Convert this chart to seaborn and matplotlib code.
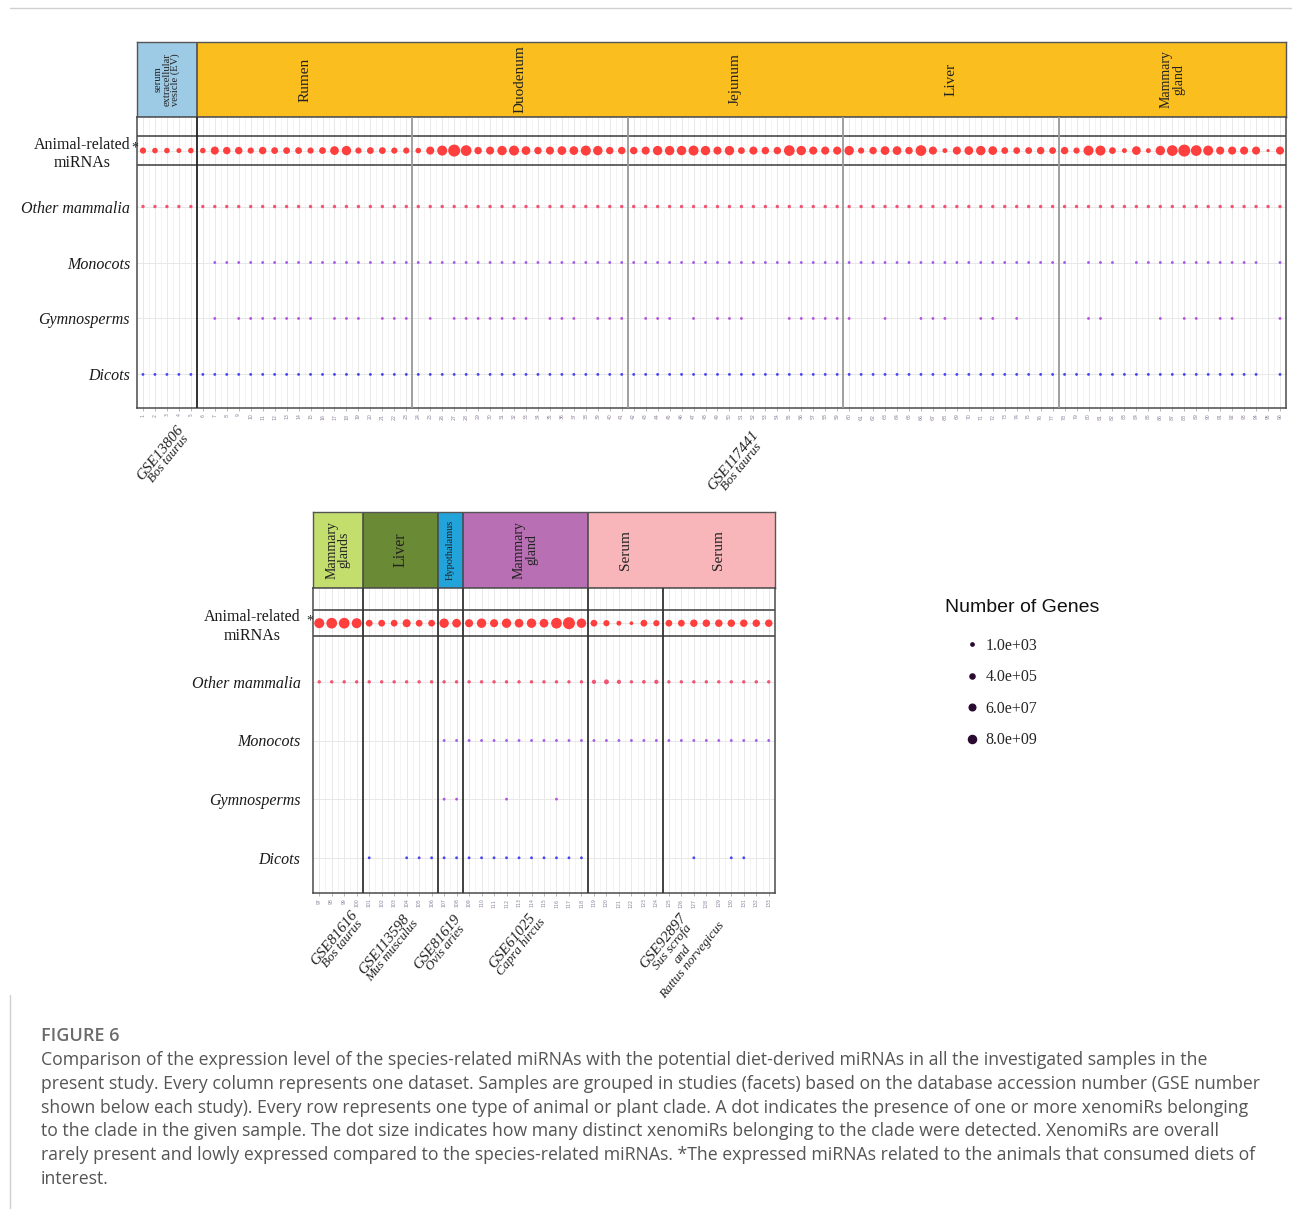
import math
import matplotlib
matplotlib.use("Agg")
import matplotlib.pyplot as plt
from matplotlib.colors import LogNorm
from matplotlib.lines import Line2D
import pandas as pd
import seaborn as sns

W, H = 1292, 1209
sns.set_theme(style="white")
plt.rcParams['font.family'] = ['Liberation Serif', 'DejaVu Serif']

# ---------------- data ----------------
clades = ["Animal-related miRNAs", "Other mammalia", "Monocots", "Gymnosperms", "Dicots"]
clade_colors = {"Animal-related miRNAs": "#FF3E3E", "Other mammalia": "#F25573",
                "Monocots": "#A15CEB", "Gymnosperms": "#B653DC", "Dicots": "#4646F2"}

samples = list(range(1, 134))

animal_genes = [
    # GSE13806 EV (1-5) + Rumen (6-23)
    3e4, 1.3e4, 1.3e4, 6e3, 1.3e4, 1.3e4, 6e5, 2e5, 2e5, 3e4, 2e5, 7e4, 7e4, 7e4, 3e4, 7e4, 2e6, 8e6, 3e4, 7e4, 7e4, 3e4, 3e4,
    # Duodenum (24-41)
    1.3e4, 6e5, 3e7, 4e9, 1.5e8, 2e5, 6e5, 8e6, 3e7, 2e6, 2e5, 6e5, 2e6, 2e6, 3e7, 8e6, 2e5, 2e5,
    # Jejunum (42-59)
    2e5, 6e5, 8e6, 8e6, 8e6, 3e7, 8e6, 6e5, 8e6, 7e4, 6e5, 2e5, 2e5, 1.5e8, 8e6, 6e5, 6e5, 6e5,
    # Liver (60-77)
    8e6, 3e4, 2e5, 2e6, 2e6, 2e5, 1.5e8, 6e5, 6e3, 6e5, 2e6, 8e6, 2e6, 7e4, 7e4, 7e4, 2e5, 7e4,
    # Mammary gland (78-96)
    2e5, 3e4, 3e7, 3e7, 7e4, 6e3, 2e6, 6e3, 8e6, 1.5e8, 4e9, 1.5e8, 3e7, 6e5, 6e5, 6e5, 6e5, 1.2e3, 6e5,
    # GSE81616 (97-100)
    3e7, 1.5e8, 1.5e8, 3e7,
    # GSE113598 (101-106)
    7e4, 7e4, 7e4, 6e5, 7e4, 7e4,
    # GSE81619 (107-108)
    8e6, 2e6,
    # GSE61025 (109-118)
    6e5, 8e6, 6e5, 8e6, 2e6, 8e6, 2e6, 1.5e8, 4e9, 8e6,
    # GSE92897 serum (119-124)
    7e4, 3e4, 6e3, 1.9e3, 7e4, 3e4,
    # GSE92897 serum (125-133)
    7e4, 7e4, 2e5, 2e5, 2e5, 2e5, 2e5, 2e5, 2e5,
]
other_mammalia_genes = [1.5e3] * 118 + [3e3, 6e3, 3e3, 1.5e3, 1.9e3, 3e3] + [1.5e3] * 9

monocots_samples = (list(range(7, 79)) + [80, 81, 82, 84, 85, 86, 87, 88, 89, 90, 91, 92, 93, 94, 96]
                    + list(range(107, 134)))
gymnosperms_samples = [7, 9, 10, 11, 12, 13, 14, 15, 17, 18, 19, 21, 22, 23,
                       25, 27, 28, 29, 30, 31, 32, 33, 35, 36, 37, 39, 40, 41,
                       43, 44, 45, 47, 49, 50, 51, 55, 56, 57, 58, 59,
                       60, 63, 66, 67, 68, 71, 72, 74,
                       80, 81, 86, 88, 89, 91, 92, 96,
                       107, 108, 112, 116]
dicots_samples = (list(range(1, 95)) + [96, 101, 104, 105, 106] + list(range(107, 119))
                  + [127, 130, 131])
plant_dot_genes = 1e3

top_facets = [("serum\nextracellular\nvesicle (EV)", 1, 5), ("Rumen", 6, 23), ("Duodenum", 24, 41),
              ("Jejunum", 42, 59), ("Liver", 60, 77), ("Mammary\ngland", 78, 96)]
top_strip_colors = [("#9DCBE6", 1, 5), ("#FABF1F", 6, 96)]
bottom_facets = [("Mammary\nglands", 97, 100), ("Liver", 101, 106), ("Hypothalamus", 107, 108),
                 ("Mammary\ngland", 109, 118), ("Serum", 119, 124), ("Serum", 125, 133)]
bottom_strip_colors = [("#C3DE6C", 97, 100), ("#6A8A35", 101, 106), ("#22A4DA", 107, 108),
                       ("#B86FB4", 109, 118), ("#F8B6BA", 119, 133)]

legend_values = [1e3, 4e5, 6e7, 8e9]

# ---------------- long table ----------------
rows = []
for s, g in zip(samples, animal_genes):
    rows.append((s, clades[0], g))
for s, g in zip(samples, other_mammalia_genes):
    rows.append((s, clades[1], g))
for s in monocots_samples:
    rows.append((s, clades[2], plant_dot_genes))
for s in gymnosperms_samples:
    rows.append((s, clades[3], plant_dot_genes))
for s in dicots_samples:
    rows.append((s, clades[4], plant_dot_genes))
df = pd.DataFrame(rows, columns=["sample", "clade", "genes"])
df["row"] = df["clade"].map({c: i for i, c in enumerate(clades)})

fig = plt.figure(figsize=(W / 100, H / 100), dpi=100)


def rect(x0, y0, x1, y1):
    return [x0 / W, 1 - y1 / H, (x1 - x0) / W, (y1 - y0) / H]


def px(x, y):
    return (x / W, 1 - y / H)


size_norm = LogNorm(1e3, 1e10)


def draw_panel(ax, data, lo, hi, facets, sep_colors, box_half, ylab_pad):
    ax.set_xlim(lo - 0.5, hi + 0.5)
    ax.set_ylim(4.6, -0.6)
    for x in range(lo, hi + 1):
        ax.axvline(x, color="#e4e4e4", lw=0.6, zorder=0)
        ax.axvline(x + 0.5, color="#f0f0f0", lw=0.5, zorder=0)
    for y in range(5):
        ax.axhline(y, color="#e8e8e8", lw=0.7, zorder=0)
    sns.scatterplot(data=data, x="sample", y="row", hue="clade", palette=clade_colors,
                    size="genes", sizes=(4.2, 79), size_norm=size_norm,
                    linewidth=0, legend=False, ax=ax, zorder=3)
    for yb in (-box_half, box_half):
        ax.axhline(yb, color="#4a4a4a", lw=1.2, zorder=4)
    for (_, a, b), c in zip(facets[:-1], sep_colors):
        ax.axvline(b + 0.5, color=c, lw=1.3, zorder=4)
    for sp in ax.spines.values():
        sp.set_color("#4a4a4a")
        sp.set_linewidth(1.1)
    ax.set_xticks(range(lo, hi + 1))
    ax.set_xticklabels([str(i) for i in range(lo, hi + 1)], rotation=90,
                       fontsize=3.3, color="#8c7f99", family="DejaVu Sans")
    ax.tick_params(axis="x", length=2.5, width=0.5, color="#999999", pad=1.5, bottom=True)
    ax.set_yticks(range(5))
    ax.set_yticklabels(["Animal-related\nmiRNAs", "Other mammalia", "Monocots", "Gymnosperms", "Dicots"])
    ax.tick_params(axis="y", length=0, pad=ylab_pad)
    for i, t in enumerate(ax.get_yticklabels()):
        t.set_fontsize(11.5)
        t.set_color("#1a1a1a")
        t.set_family("Liberation Serif")
        t.set_multialignment("center")
        if i > 0:
            t.set_style("italic")
    ax.set_xlabel("")
    ax.set_ylabel("")
    ax.grid(False)


def draw_strip(ax, lo, hi, colors, facets, sizes):
    ax.set_xlim(lo - 0.5, hi + 0.5)
    ax.set_ylim(0, 1)
    for c, a, b in colors:
        ax.axvspan(a - 0.5, b + 0.5, color=c, zorder=0, lw=0)
        if b < hi:
            ax.axvline(b + 0.5, color="#444444", lw=1.1)
    for (lab, a, b), fs in zip(facets, sizes):
        ax.text((a + b) / 2, 0.5, lab, rotation=90, ha="center", va="center",
                fontsize=fs, family="Liberation Serif", color="#222222", linespacing=0.95)
    ax.set_xticks([])
    ax.set_yticks([])
    for sp in ax.spines.values():
        sp.set_color("#555555")
        sp.set_linewidth(1.0)


# ---------------- top panel ----------------
ax_ts = fig.add_axes(rect(137, 42, 1286, 117))
draw_strip(ax_ts, 1, 96, top_strip_colors, top_facets, [7.6, 11, 11, 11, 11, 10])
ax_t = fig.add_axes(rect(137, 117, 1286, 408))
draw_panel(ax_t, df[df["sample"] <= 96], 1, 96, top_facets,
           ["#222222", "#999999", "#999999", "#999999", "#999999"], 0.255, 5)
fig.text(*px(134.5, 148), "*", fontsize=10, ha="center", va="center", family="Liberation Serif")

# ---------------- bottom panel ----------------
ax_bs = fig.add_axes(rect(313, 512, 775, 588))
draw_strip(ax_bs, 97, 133, bottom_strip_colors, bottom_facets, [10, 11.5, 7.5, 10, 11, 11])
ax_b = fig.add_axes(rect(313, 588, 775, 893))
draw_panel(ax_b, df[df["sample"] >= 97], 97, 133, bottom_facets,
           ["#333333"] * 5, 0.22, 9)
fig.text(*px(309.5, 621), "*", fontsize=10, ha="center", va="center", family="Liberation Serif")

# ---------------- study labels ----------------
def study(x, y, gse, species, dx=9, dy=6):
    fig.text(*px(x, y), gse, rotation=51, rotation_mode="anchor", ha="center", va="center",
             fontsize=11, family="Liberation Serif", style="italic", color="#222222")
    for k, sp in enumerate(species, start=1):
        fig.text(*px(x + dx * k + (2 if k > 1 else 0), y + dy * k + (1 if k > 1 else 0)), sp,
                 rotation=51, rotation_mode="anchor", ha="center", va="center",
                 fontsize=9.5, family="Liberation Serif", style="italic", color="#222222")

study(160, 453, "GSE13806", ["Bos taurus"])
study(733, 461, "GSE117441", ["Bos taurus"])
study(334, 938, "GSE81616", ["Bos taurus"])
study(384, 945, "GSE113598", ["Mus musculus"])
study(437, 942, "GSE81619", ["Ovis aries"])
study(512, 941, "GSE61025", ["Capra hircus"])
study(663, 941, "GSE92897", ["Sus scrofa", "and", "Rattus norvegicus"])

# ---------------- legend ----------------
fig.text(*px(945, 608), "Number of Genes", fontsize=14, family="Liberation Sans",
         color="#111111", va="center", ha="left")
handles = [Line2D([0], [0], marker="o", linestyle="", color="#2a0a30",
                  markersize=2.4 + (math.log10(v) - 3) * 0.5)
           for v in legend_values]
fig.legend(handles, [f"{v:.1e}" for v in legend_values], loc="upper left",
           bbox_to_anchor=px(964, 638), frameon=False, handlelength=1.0, handletextpad=0.35,
           borderpad=0, borderaxespad=0, labelspacing=0.97,
           prop={"family": "Liberation Serif", "size": 11.5})

# ---------------- caption & frame ----------------
fig.add_artist(Line2D([10 / W, 1], [1 - 8 / H, 1 - 8 / H], color="#d0d0d0", lw=1))
fig.add_artist(Line2D([10 / W, 10 / W], [0, 1 - 995 / H], color="#d0d0d0", lw=1))
fig.text(*px(41, 1036), "FIGURE 6", fontsize=13, family="Open Sans", weight="semibold",
         color="#6b6b6b", va="center")
caption = [
    "Comparison of the expression level of the species-related miRNAs with the potential diet-derived miRNAs in all the investigated samples in the",
    "present study. Every column represents one dataset. Samples are grouped in studies (facets) based on the database accession number (GSE number",
    "shown below each study). Every row represents one type of animal or plant clade. A dot indicates the presence of one or more xenomiRs belonging",
    "to the clade in the given sample. The dot size indicates how many distinct xenomiRs belonging to the clade were detected. XenomiRs are overall",
    "rarely present and lowly expressed compared to the species-related miRNAs. *The expressed miRNAs related to the animals that consumed diets of",
    "interest.",
]
for i, line in enumerate(caption):
    fig.text(*px(41, 1060 + i * 23.8), line, fontsize=12.7, family="Open Sans",
             color="#555555", va="center")

fig.savefig("out.png", dpi=100)
